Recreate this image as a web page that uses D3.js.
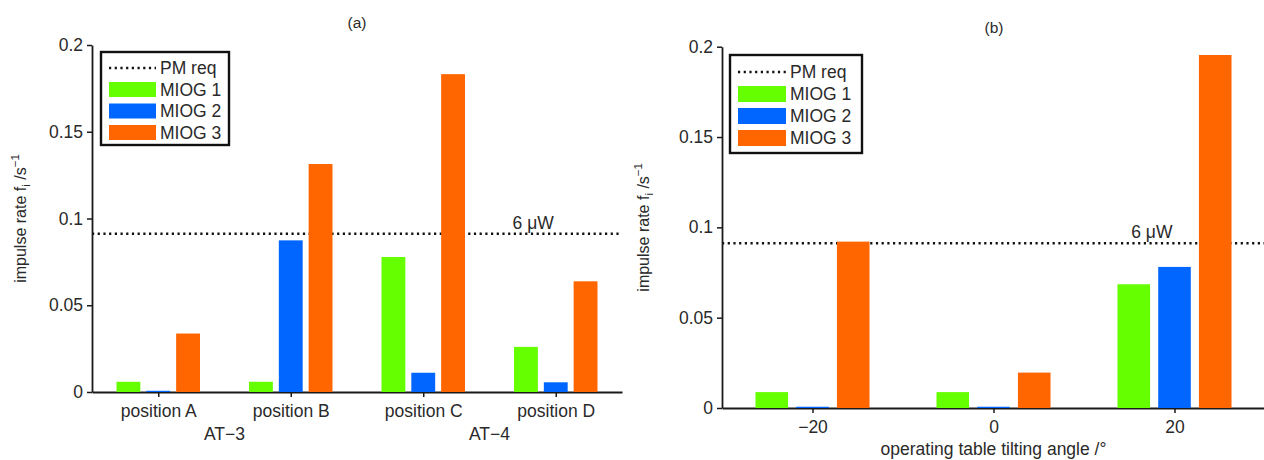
<!DOCTYPE html>
<html>
<head>
<meta charset="utf-8">
<script src="https://cdn.jsdelivr.net/npm/d3@7"></script>
<style>
  html, body { margin: 0; padding: 0; background: #fff; }
  svg text { font-family: "Liberation Sans", Arial, Helvetica, sans-serif; fill: #2a2a2a; }
</style>
</head>
<body>
<svg id="chart" width="1264" height="460"></svg>
<script>
// ---------------- data ----------------
const seriesNames = ["MIOG 1", "MIOG 2", "MIOG 3"];
const seriesColors = ["#66ff00", "#0066ff", "#ff6600"];
const pmReqLabel = "PM req";
const pmReqValue = 0.0912;
const pmPowerLabel = "6 \u03bcW";

// panel (a)
const categoriesA = ["position A", "position B", "position C", "position D"];
const groupLabelsA = ["AT\u22123", "AT\u22124"];
const miog1A = [0.0059, 0.0059, 0.0778, 0.0260];
const miog2A = [0.0007, 0.0874, 0.0111, 0.0056];
const miog3A = [0.0337, 0.1314, 0.1832, 0.0638];

// panel (b)
const anglesB = [-20, 0, 20];
const miog1B = [0.0088, 0.0088, 0.0685];
const miog2B = [0.0007, 0.0007, 0.0781];
const miog3B = [0.0921, 0.0196, 0.1954];

const yTicks = [0, 0.05, 0.1, 0.15, 0.2];
const xTicksB = [-20, 0, 20];

// ---------------- drawing ----------------
const svg = d3.select("#chart");
const FS = 17.5;

function drawPanel(cfg) {
  const g = svg.append("g");
  const x = d3.scaleLinear().domain(cfg.xDomain).range([cfg.left, cfg.right]);
  const y = d3.scaleLinear().domain([0, 0.2]).range([cfg.bottom, cfg.top]);
  const unit = d3.min(d3.pairs(cfg.xs), ([a, b]) => b - a);
  const barStep = 0.225 * unit, barW = 0.18 * unit;

  // PM requirement dotted line (behind bars)
  g.append("line")
    .attr("x1", cfg.left).attr("x2", cfg.right)
    .attr("y1", y(pmReqValue)).attr("y2", y(pmReqValue))
    .attr("stroke", "#111").attr("stroke-width", 2.4)
    .attr("stroke-dasharray", "2.2,3.5");

  // x axis
  const xAxis = d3.axisBottom(x).tickValues(cfg.xs).tickSizeInner(5).tickSizeOuter(0).tickPadding(7)
    .tickFormat(cfg.xFormat);
  const gx = g.append("g").attr("transform", `translate(0,${cfg.bottom})`).call(xAxis);
  gx.select(".domain").attr("stroke", "#1a1a1a").attr("stroke-width", 2.2);
  gx.selectAll(".tick line").attr("stroke", "#1a1a1a").attr("stroke-width", 1.5);
  gx.selectAll(".tick text").attr("font-size", FS).attr("fill", "#2a2a2a").attr("dy", "0.72em");

  // y axis
  const yAxis = d3.axisLeft(y).tickValues(yTicks).tickSizeInner(5).tickSizeOuter(0).tickPadding(4)
    .tickFormat(d => String(d));
  const gy = g.append("g").attr("transform", `translate(${cfg.left},0)`).call(yAxis);
  gy.select(".domain").attr("stroke", "#1a1a1a").attr("stroke-width", 1.8);
  gy.selectAll(".tick line").attr("stroke", "#1a1a1a").attr("stroke-width", 1.5);
  gy.selectAll(".tick text").attr("font-size", FS).attr("fill", "#2a2a2a");

  // bars
  cfg.series.forEach((vals, s) => {
    g.append("g").selectAll("rect").data(vals).join("rect")
      .attr("x", (v, i) => x(cfg.xs[i] + (s - 1) * barStep - barW / 2))
      .attr("width", x(barW) - x(0))
      .attr("y", v => y(v))
      .attr("height", v => y(0) - y(v))
      .attr("fill", seriesColors[s]);
  });

  // 6 uW label
  g.append("text")
    .attr("x", x(cfg.powerX)).attr("y", y(pmReqValue) - cfg.powerDy)
    .attr("text-anchor", "middle").attr("font-size", FS)
    .text(pmPowerLabel);

  // title
  g.append("text")
    .attr("x", cfg.titleX)
    .attr("y", cfg.titleY).attr("text-anchor", "middle").attr("font-size", 15.5)
    .text(cfg.title);

  // y label
  const yl = g.append("text")
    .attr("transform", `translate(${cfg.yLabelX},${(cfg.top + cfg.bottom) / 2}) rotate(-90)`)
    .attr("text-anchor", "middle").attr("font-size", 16);
  yl.append("tspan").text("impulse rate f");
  yl.append("tspan").attr("font-size", 11.5).attr("dy", 4).text("i");
  yl.append("tspan").attr("dy", -4).text(" /s");
  yl.append("tspan").attr("font-size", 11.5).attr("dy", -7).text("\u22121");

  // legend
  const L = cfg.legend;
  const lg = g.append("g");
  lg.append("rect").attr("x", L.x).attr("y", L.y).attr("width", L.w).attr("height", L.h)
    .attr("fill", "#fff").attr("stroke", "#111").attr("stroke-width", 2.4);
  const rowY = i => L.y + L.first + i * L.step;
  lg.append("line").attr("x1", L.x + 8).attr("x2", L.x + 8 + L.sw)
    .attr("y1", rowY(0)).attr("y2", rowY(0))
    .attr("stroke", "#111").attr("stroke-width", 2.4).attr("stroke-dasharray", "2.2,3.5");
  lg.append("text").attr("x", L.x + 12 + L.sw).attr("y", rowY(0)).attr("dy", "0.36em")
    .attr("font-size", FS).text(pmReqLabel);
  seriesNames.forEach((name, s) => {
    lg.append("rect").attr("x", L.x + 8).attr("y", rowY(s + 1) - L.sh / 2)
      .attr("width", L.sw).attr("height", L.sh).attr("fill", seriesColors[s]);
    lg.append("text").attr("x", L.x + 12 + L.sw).attr("y", rowY(s + 1)).attr("dy", "0.36em")
      .attr("font-size", FS).text(name);
  });

  return { g, x, y };
}

// panel (a)
const pa = drawPanel({
  title: "(a)", titleY: 28, titleX: 357,
  left: 92, right: 622, top: 45, bottom: 392,
  xDomain: [0.5, 4.5], xs: [1, 2, 3, 4],
  xFormat: d => categoriesA[d - 1],
  series: [miog1A, miog2A, miog3A],
  powerX: 3.83, powerDy: 5,
  yLabelX: 26,
  legend: { x: 101, y: 52, w: 128, h: 93, first: 16, step: 21.5, sw: 47, sh: 15 }
});
pa.g.append("g").selectAll("text").data(groupLabelsA).join("text")
  .attr("x", (d, i) => pa.x(1.5 + 2 * i)).attr("y", 440)
  .attr("text-anchor", "middle").attr("font-size", FS).text(d => d);

// panel (b)
const pb = drawPanel({
  title: "(b)", titleY: 33, titleX: 994,
  left: 722, right: 1265, top: 46.7, bottom: 408,
  xDomain: [-30, 30], xs: anglesB,
  xFormat: d3.format("d"),
  series: [miog1B, miog2B, miog3B],
  powerX: 17.5, powerDy: 5,
  yLabelX: 649,
  legend: { x: 730, y: 55, w: 132, h: 98, first: 17, step: 22, sw: 48, sh: 16 }
});
pb.g.append("text").attr("x", pb.x(0)).attr("y", 455)
  .attr("text-anchor", "middle").attr("font-size", FS).text("operating table tilting angle /\u00b0");
</script>
</body>
</html>
